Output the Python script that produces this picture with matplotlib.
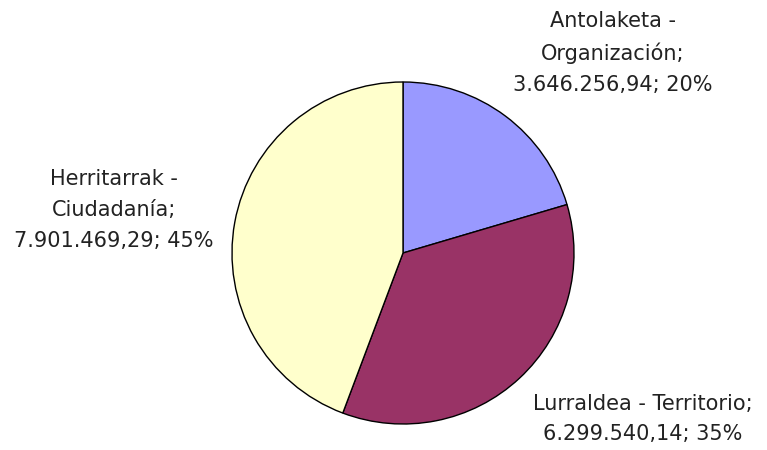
import matplotlib.pyplot as plt

# Data
categories = ["Antolaketa - Organización", "Lurraldea - Territorio", "Herritarrak - Ciudadanía"]
values = [3646256.94, 6299540.14, 7901469.29]
label_texts = [
    "Antolaketa -\nOrganización;\n3.646.256,94; 20%",
    "Lurraldea - Territorio;\n6.299.540,14; 35%",
    "Herritarrak -\nCiudadanía;\n7.901.469,29; 45%",
]
colors = ["#9999FF", "#993366", "#FFFFCC"]

W, H = 767, 450
fig = plt.figure(figsize=(W / 100, H / 100), dpi=100)
plt.rcParams["font.family"] = ["DejaVu Sans"]

# pie placed by pixel centre and radius
cx, cy, r = 403, 253, 171
ax = fig.add_axes([(cx - r) / W, 1 - (cy + r) / H, 2 * r / W, 2 * r / H])
ax.pie(
    values,
    colors=colors,
    startangle=90,
    counterclock=False,
    radius=1,
    wedgeprops=dict(edgecolor="black", linewidth=1),
)
ax.set_xlim(-1, 1)
ax.set_ylim(-1, 1)
ax.set_aspect("auto")
ax.axis("off")

# label blocks (centre x, centre y in pixels)
label_pos = [(613, 53), (643, 419), (114, 210)]
for txt, (x, y) in zip(label_texts, label_pos):
    fig.text(x / W, 1 - y / H, txt, ha="center", va="center",
             fontsize=15, color="#222222", linespacing=1.68)

fig.savefig("out.png", dpi=100, facecolor="white")
